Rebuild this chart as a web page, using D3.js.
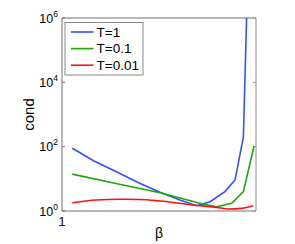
<!DOCTYPE html>
<html>
<head>
<meta charset="utf-8">
<script src="https://cdn.jsdelivr.net/npm/d3@7"></script>
<style>
  body { margin: 0; background: #fff; }
  text { font-family: "Liberation Sans", Arial, sans-serif; fill: #000; }
</style>
</head>
<body>
<div id="chart"></div>
<script>
/* DATA */
const seriesNames = ["T=1", "T=0.1", "T=0.01"];
const blueBeta = [1.053, 1.165, 1.278, 1.392, 1.505, 1.608, 1.694, 1.763, 1.840, 1.892, 1.935, 1.956];
const blueCond = [89, 36, 17, 7.7, 3.8, 2.2, 1.46, 1.95, 4.0, 9.2, 200, 1e7];
const greenBeta = [1.053, 1.278, 1.505, 1.711, 1.797, 1.875, 1.935, 1.990];
const greenCond = [14, 7.2, 3.7, 1.74, 1.36, 1.74, 4.0, 105];
const redBeta = [1.053, 1.175, 1.299, 1.402, 1.505, 1.677, 1.797, 1.857, 1.926, 1.986];
const redCond = [1.81, 2.2, 2.31, 2.28, 2.05, 1.54, 1.30, 1.15, 1.21, 1.46];
const yTickExp = [0, 2, 4, 6];
const xTickLabels = ["1"];

/* CONSTANTS */
const width = 295, height = 244,
  margin = { top: 18, bottom: 33, left: 62, right: 39 };
const colors = ["#3450ff", "#1aa80a", "#ff1010"];

const svg = d3.select("#chart").append("svg")
  .attr("width", width).attr("height", height);

const xScale = d3.scaleLinear().domain([1, 2])
  .range([margin.left, width - margin.right]);
const yScale = d3.scaleLog().domain([1, 1e6])
  .range([height - margin.bottom, margin.top]);

const x0 = xScale.range()[0], x1 = xScale.range()[1];
const y0 = yScale.range()[0], y1 = yScale.range()[1];

svg.append("clipPath").attr("id", "clip")
  .append("rect").attr("x", x0).attr("y", y1)
  .attr("width", x1 - x0).attr("height", y0 - y1);

// box
svg.append("line").attr("x1", x1).attr("x2", x1).attr("y1", y1).attr("y2", y0)
  .attr("stroke", "#b4b4b4").attr("stroke-width", 1.5);
svg.append("path")
  .attr("d", `M${x1},${y1}H${x0}V${y0}H${x1}`)
  .attr("fill", "none").attr("stroke", "#707070").attr("stroke-width", 1);

// y ticks
const yt = svg.append("g");
yTickExp.forEach(e => {
  const y = yScale(Math.pow(10, e));
  yt.append("line").attr("x1", x0).attr("x2", x0 + 3).attr("y1", y).attr("y2", y)
    .attr("stroke", "#707070");
  yt.append("line").attr("x1", x1).attr("x2", x1 - 3).attr("y1", y).attr("y2", y)
    .attr("stroke", "#999");
  const t = yt.append("text").attr("x", x0 - 4).attr("y", y + 4.5)
    .attr("text-anchor", "end").style("font-size", "12.5px");
  t.append("tspan").text("10");
  t.append("tspan").attr("dy", -6).style("font-size", "8.5px").text(e);
});

// x tick
svg.append("text").attr("x", xScale(1)).attr("y", y0 + 15)
  .attr("text-anchor", "middle").style("font-size", "12.5px").text(xTickLabels[0]);

// labels
svg.append("text")
  .attr("transform", `translate(${x0 - 28},${(y0 + y1) / 2}) rotate(-90)`)
  .attr("text-anchor", "middle").style("font-size", "15px").text("cond");
svg.append("text").attr("x", (x0 + x1) / 2).attr("y", y0 + 27)
  .attr("text-anchor", "middle").style("font-size", "14px").text("β");

// lines
const series = [
  { beta: blueBeta, cond: blueCond, curve: d3.curveLinear },
  { beta: greenBeta, cond: greenCond, curve: d3.curveLinear },
  { beta: redBeta, cond: redCond, curve: d3.curveMonotoneX }
];
const plot = svg.append("g").attr("clip-path", "url(#clip)");
series.forEach((s, i) => {
  const pts = s.beta.map((b, j) => [b, s.cond[j]]);
  plot.append("path").datum(pts)
    .attr("fill", "none").attr("stroke", colors[i]).attr("stroke-width", 1.6)
    .attr("d", d3.line().x(d => xScale(d[0])).y(d => yScale(d[1])).curve(s.curve));
});

// legend
const lg = svg.append("g").attr("transform", "translate(65,22.5)");
lg.append("rect").attr("width", 78).attr("height", 52.5)
  .attr("fill", "#fff").attr("stroke", "#8a8a8a");
seriesNames.forEach((n, i) => {
  const y = 9.5 + i * 16.6;
  lg.append("line").attr("x1", 6).attr("x2", 28.5).attr("y1", y).attr("y2", y)
    .attr("stroke", colors[i]).attr("stroke-width", 1.6);
  lg.append("text").attr("x", 31.5).attr("y", y + 4.8)
    .style("font-size", "13.5px").text(n);
});
</script>
</body>
</html>
